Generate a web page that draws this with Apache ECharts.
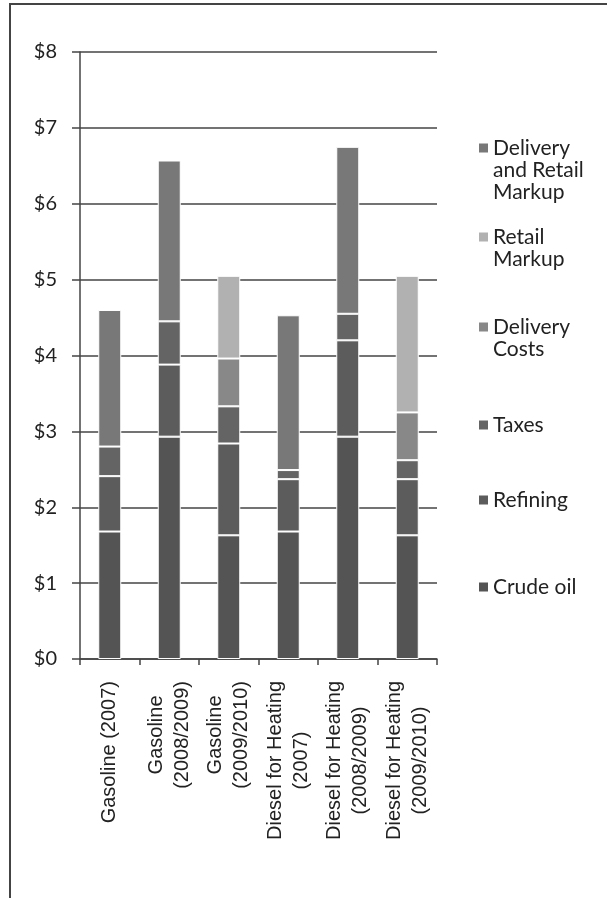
<!DOCTYPE html>
<html>
<head>
<meta charset="utf-8">
<script src="https://cdn.jsdelivr.net/npm/echarts@6/dist/echarts.min.js"></script>
<style>
  html, body { margin: 0; padding: 0; background: #fff; }
  #chart { width: 607px; height: 898px; }
</style>
</head>
<body>
<div id="chart"></div>
<script>
// categories (x axis)
const categories = [
  'Gasoline (2007)',
  'Gasoline\n(2008/2009)',
  'Gasoline\n(2009/2010)',
  'Diesel for Heating\n(2007)',
  'Diesel for Heating\n(2008/2009)',
  'Diesel for Heating\n(2009/2010)'
]
// dollars per gallon, stacked bottom to top
const crudeOil = [1.68, 2.93, 1.63, 1.68, 2.93, 1.63]
const refining = [0.73, 0.95, 1.21, 0.69, 1.27, 0.74]
const taxes = [0.39, 0.57, 0.49, 0.12, 0.35, 0.25]
const deliveryCosts = [null, null, 0.63, null, null, 0.63]
const retailMarkup = [null, null, 1.09, null, null, 1.80]
const deliveryRetail = [1.80, 2.12, null, 2.04, 2.20, null]
const yTicks = [0, 1, 2, 3, 4, 5, 6, 7, 8]

const seriesList = [
  { name: 'Crude oil', data: crudeOil, color: '#545454', lines: ['Crude oil'], top: 576 },
  { name: 'Refining', data: refining, color: '#5c5c5c', lines: ['Refining'], top: 489 },
  { name: 'Taxes', data: taxes, color: '#646464', lines: ['Taxes'], top: 414 },
  { name: 'Delivery Costs', data: deliveryCosts, color: '#888', lines: ['Delivery', 'Costs'], top: 316 },
  { name: 'Retail Markup', data: retailMarkup, color: '#b1b1b1', lines: ['Retail', 'Markup'], top: 226 },
  { name: 'Delivery and Retail Markup', data: deliveryRetail, color: '#787878', lines: ['Delivery', 'and Retail', 'Markup'], top: 137 }
]

const LINE_H = 22

// legend icon sits on the first text line: square at top of a tall invisible box
function legendIcon (n) {
  let h = n * LINE_H
  return `path://M0,0L0.01,0M0,6.5L9,6.5L9,15.5L0,15.5ZM0,${h}L0.01,${h}`
}

const chart = echarts.init(document.getElementById('chart'), null, { renderer: 'canvas' })

const legends = seriesList.map(s => ({
  data: [s.name],
  left: 479,
  top: s.top,
  padding: 0,
  orient: 'vertical',
  selectedMode: false,
  icon: legendIcon(s.lines.length),
  itemWidth: 9,
  itemHeight: s.lines.length * LINE_H,
  itemStyle: { borderWidth: 0 },
  formatter: () => s.lines.join('\n'),
  textStyle: {
    fontFamily: 'Lato',
    fontSize: 21,
    lineHeight: LINE_H,
    color: '#222'
  }
}))

chart.setOption({
  backgroundColor: '#fff',
  animation: false,
  legend: legends,
  grid: {
    left: 80,
    top: 52,
    width: 357,
    height: 607
  },
  xAxis: {
    type: 'category',
    data: categories,
    axisLine: { lineStyle: { color: '#444', width: 1.5 } },
    axisTick: { show: true, length: 6, lineStyle: { color: '#444', width: 1.5 } },
    axisLabel: {
      rotate: 90,
      margin: 22,
      interval: 0,
      fontFamily: 'Liberation Sans',
      fontSize: 20,
      lineHeight: 26,
      color: '#222',
      formatter: v => v.split('\n').map(t => '{c|' + t + '}').join('\n'),
      rich: { c: { align: 'center', fontFamily: 'Liberation Sans', fontSize: 20, lineHeight: 26, color: '#222' } }
    }
  },
  yAxis: {
    type: 'value',
    min: yTicks[0],
    max: yTicks[yTicks.length - 1],
    interval: 1,
    axisLine: { show: true, lineStyle: { color: '#444', width: 1.5 } },
    axisTick: { show: true, length: 8, lineStyle: { color: '#444', width: 1.5 } },
    splitLine: { lineStyle: { color: '#444', width: 1.5 } },
    axisLabel: {
      margin: 23,
      fontFamily: 'Lato',
      fontSize: 20,
      color: '#222',
      formatter: v => '$' + v
    }
  },
  series: seriesList.map(s => ({
    type: 'bar',
    name: s.name,
    stack: 'cost',
    data: s.data,
    barWidth: 23,
    itemStyle: { color: s.color, borderColor: '#fff', borderWidth: 1 }
  })),
  graphic: [
    // chart frame, left and top edges
    { type: 'polyline', shape: { points: [[10, 898], [10, 4], [607, 4]] }, style: { stroke: '#444', lineWidth: 2, fill: null } }
  ]
})
</script>
</body>
</html>
